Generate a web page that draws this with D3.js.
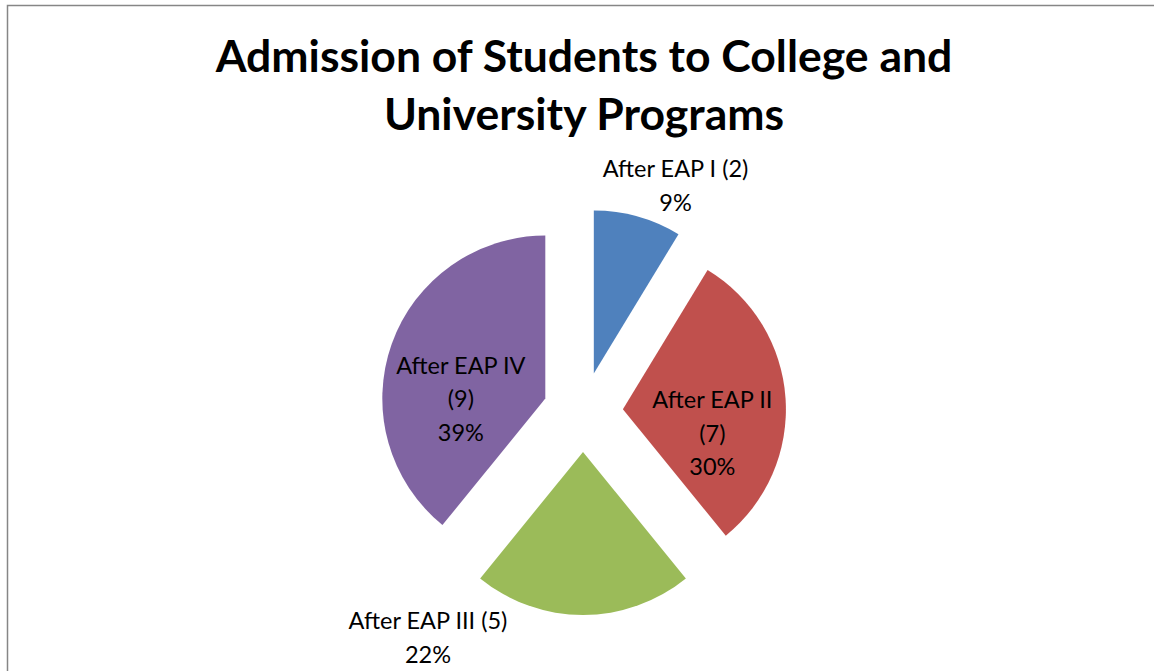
<!DOCTYPE html>
<html>
<head>
<meta charset="utf-8">
<script src="https://cdn.jsdelivr.net/npm/d3@7"></script>
<style>
  body { margin: 0; background: #fff; }
  svg { display: block; }
</style>
</head>
<body>
<div id="chart"></div>
<script>
// data
const categories = ['After EAP I', 'After EAP II', 'After EAP III', 'After EAP IV']
const counts = [2, 7, 5, 9]
const sliceColors = ['#4f81bd', '#c0504d', '#9bbb59', '#8064a2']
const titleLines = ['Admission of Students to College and', 'University Programs']

let width = 1154
let height = 671

let svg = d3
  .select('#chart')
  .append('svg')
  .attr('width', width)
  .attr('height', height)

// chart frame (left and top edges only are visible)
svg.append('path')
  .attr('d', `M7.5,${height} V5.5 H${width}`)
  .attr('fill', 'none')
  .attr('stroke', '#868686')
  .attr('stroke-width', 1.5)

svg.append('g')
  .selectAll('text')
  .data(titleLines)
  .enter()
  .append('text')
  .attr('x', 584)
  .attr('y', (d, i) => 72 + i * 58)
  .attr('text-anchor', 'middle')
  .attr('font-family', 'Lato, "Open Sans", sans-serif')
  .attr('font-weight', 'bold')
  .attr('font-size', 44.5)
  .attr('fill', '#000')
  .text(d => d)

let cx = 583
let cy = 412
let radius = 163
let explode = 40

let total = d3.sum(counts)
let pct = d3.format('.0%')

let pie = d3.pie().sort(null).value(d => d.value)
let arc = d3.arc().innerRadius(0).outerRadius(radius)
let labelArc = d3.arc().innerRadius(radius * 0.55).outerRadius(radius * 0.55)
let outerArc = d3.arc().innerRadius(radius + 25).outerRadius(radius + 25)

let slices = pie(categories.map((c, i) => ({ name: c, value: counts[i], color: sliceColors[i] })))

// Excel puts the small and bottom labels outside, the rest inside
let outside = [true, false, true, false]
let labelNudge = [[31, -20], [0, 0], [-155, -16], [0, 0]]

let g = svg.append('g').attr('transform', `translate(${cx},${cy})`)

let sliceG = g.selectAll('.slice')
  .data(slices)
  .enter()
  .append('g')
  .attr('class', 'slice')
  .attr('transform', d => {
    let mid = (d.startAngle + d.endAngle) / 2
    return `translate(${explode * Math.sin(mid)},${-explode * Math.cos(mid)})`
  })

sliceG.append('path')
  .attr('d', arc)
  .attr('fill', d => d.data.color)

sliceG.each(function(d, i) {
  let group = d3.select(this)
  let share = pct(d.data.value / total)
  let lines, pos
  if (outside[i]) {
    lines = [`${d.data.name} (${d.data.value})`, share]
    let p = outerArc.centroid(d)
    pos = [p[0] + labelNudge[i][0], p[1] + labelNudge[i][1]]
  } else {
    lines = [d.data.name, `(${d.data.value})`, share]
    pos = labelArc.centroid(d)
  }
  group.append('text')
    .attr('text-anchor', 'middle')
    .attr('font-family', 'Lato, "Open Sans", sans-serif')
    .attr('font-size', 23.5)
    .attr('fill', '#000')
    .selectAll('tspan')
    .data(lines)
    .enter()
    .append('tspan')
    .attr('x', pos[0])
    .attr('y', (t, j) => pos[1] + 5 + j * 33.5)
    .text(t => t)
})
</script>
</body>
</html>
